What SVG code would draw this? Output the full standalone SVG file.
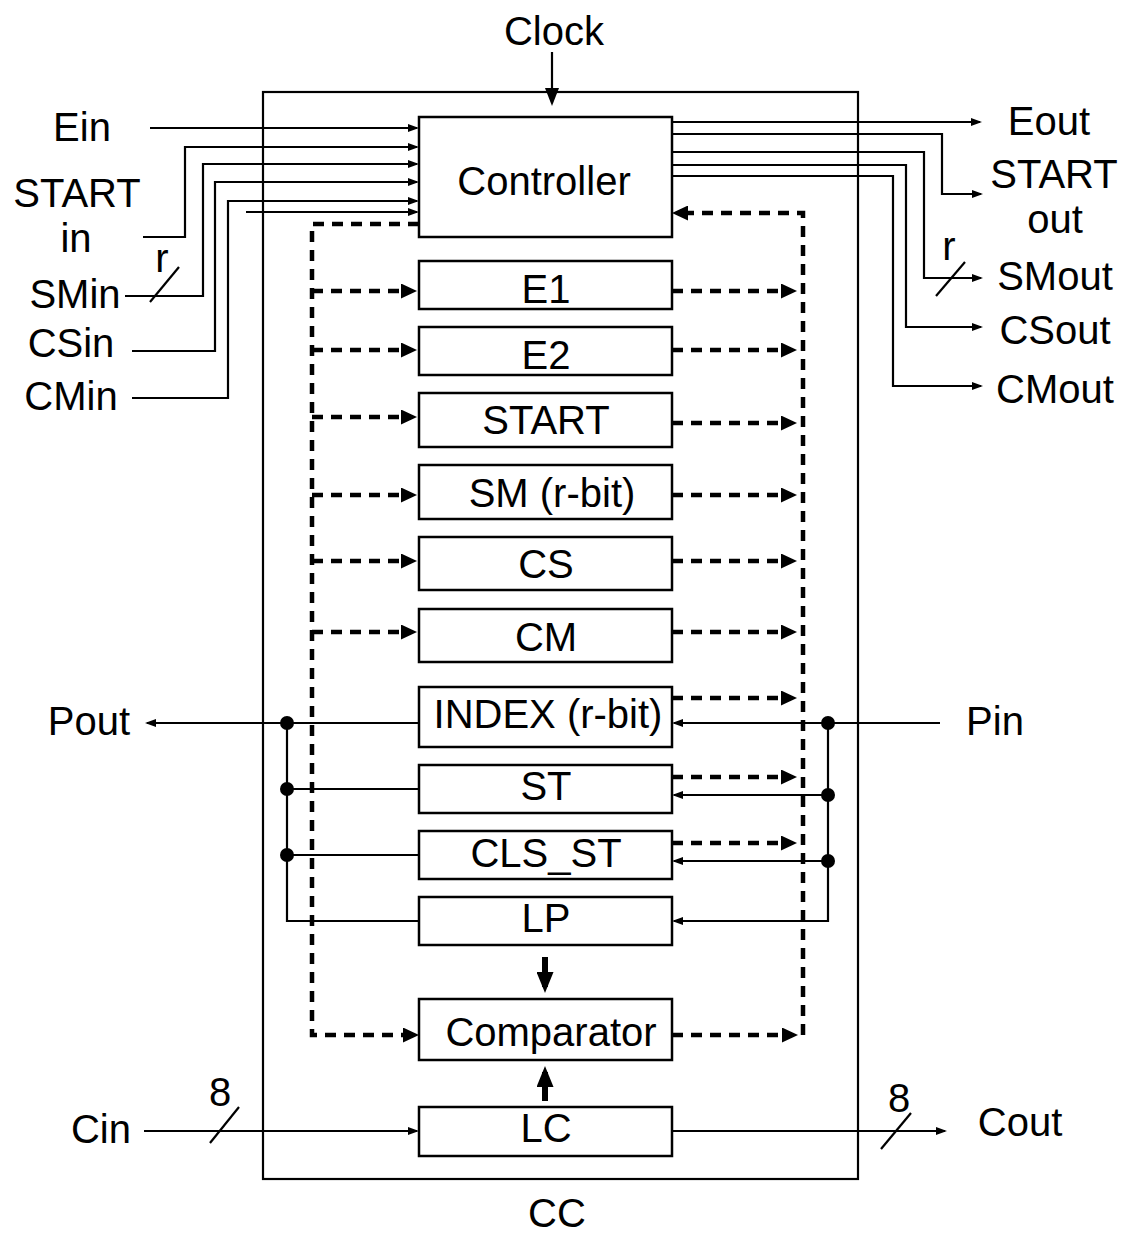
<svg xmlns="http://www.w3.org/2000/svg" width="1123" height="1235" viewBox="0 0 1123 1235">
<style>
.box{fill:#fff;stroke:#000;stroke-width:2.5}
.frame{fill:none;stroke:#000;stroke-width:2.2}
.t{font-family:"Liberation Sans",Arial,sans-serif;font-size:40px;text-anchor:middle;fill:#000}
.w{fill:none;stroke:#000;stroke-width:2.2}
.d{fill:none;stroke:#000;stroke-width:4.5;stroke-dasharray:11 8}
.k{fill:none;stroke:#000;stroke-width:6}
.dot{fill:#000}
</style>
<defs>
<marker id="a" markerWidth="11" markerHeight="8" refX="9" refY="4" orient="auto" markerUnits="userSpaceOnUse"><path d="M0,0 L11,4 L0,8 z" fill="#000"/></marker>
<marker id="da" markerWidth="16" markerHeight="15" refX="10" refY="7.5" orient="auto" markerUnits="userSpaceOnUse"><path d="M0,0 L16,7.5 L0,15 z" fill="#000"/></marker>
<marker id="ka" markerWidth="21" markerHeight="17" refX="15" refY="8.5" orient="auto" markerUnits="userSpaceOnUse"><path d="M0,0 L21,8.5 L0,17 z" fill="#000"/></marker>
<marker id="ca" markerWidth="18" markerHeight="14" refX="14" refY="7" orient="auto" markerUnits="userSpaceOnUse"><path d="M0,0 L18,7 L0,14 z" fill="#000"/></marker>
</defs>
<rect width="1123" height="1235" fill="#fff"/>
<g id="cc">
<rect class="frame" x="263" y="92" width="595" height="1087"/>
<text class="t" x="557" y="1227">CC</text>
</g>
<g id="connectors">
<path class="w" d="M552,52 V102" stroke-width="4" marker-end="url(#ca)"/>
<path class="w" d="M150,128 H417" marker-end="url(#a)"/>
<path class="w" d="M143,237 H185 V147 H417" marker-end="url(#a)"/>
<path class="w" d="M125,296 H203 V164 H417" marker-end="url(#a)"/>
<path class="w" d="M132,351 H215 V182 H417" marker-end="url(#a)"/>
<path class="w" d="M132,398 H228 V201 H417" marker-end="url(#a)"/>
<path class="w" d="M246,212 H417" marker-end="url(#a)"/>
<line class="w" x1="150" y1="302" x2="179" y2="267"/>
<path class="w" d="M672,122 H980" marker-end="url(#a)"/>
<path class="w" d="M672,134 H942 V194 H981" marker-end="url(#a)"/>
<path class="w" d="M672,152 H924 V278 H981" marker-end="url(#a)"/>
<path class="w" d="M672,165 H906 V327 H981" marker-end="url(#a)"/>
<path class="w" d="M672,176 H893 V386 H981" marker-end="url(#a)"/>
<line class="w" x1="936" y1="296" x2="965" y2="262"/>
<path class="d" d="M419,224 H312 V1035 H413" marker-end="url(#da)"/>
<path class="d" d="M312,291 H411" marker-end="url(#da)"/>
<path class="d" d="M312,350 H411" marker-end="url(#da)"/>
<path class="d" d="M312,417 H411" marker-end="url(#da)"/>
<path class="d" d="M312,495 H411" marker-end="url(#da)"/>
<path class="d" d="M312,561 H411" marker-end="url(#da)"/>
<path class="d" d="M312,632 H411" marker-end="url(#da)"/>
<path class="d" d="M803,1035 V213 H678" marker-end="url(#da)"/>
<path class="d" d="M672,291 H791" marker-end="url(#da)"/>
<path class="d" d="M672,350 H791" marker-end="url(#da)"/>
<path class="d" d="M672,423 H791" marker-end="url(#da)"/>
<path class="d" d="M672,495 H791" marker-end="url(#da)"/>
<path class="d" d="M672,561 H791" marker-end="url(#da)"/>
<path class="d" d="M672,632 H791" marker-end="url(#da)"/>
<path class="d" d="M672,698 H791" marker-end="url(#da)"/>
<path class="d" d="M672,777 H791" marker-end="url(#da)"/>
<path class="d" d="M672,843 H791" marker-end="url(#da)"/>
<path class="d" d="M672,1035 H792" marker-end="url(#da)"/>
<path class="w" d="M419,723 H147" marker-end="url(#a)"/>
<path class="w" d="M287,723 V921 H419"/>
<path class="w" d="M287,789 H419"/>
<path class="w" d="M287,855 H419"/>
<circle class="dot" cx="287" cy="723" r="7"/>
<circle class="dot" cx="287" cy="789" r="7"/>
<circle class="dot" cx="287" cy="855" r="7"/>
<path class="w" d="M940,723 H674" marker-end="url(#a)"/>
<path class="w" d="M828,723 V921 H674" marker-end="url(#a)"/>
<path class="w" d="M828,795 H674" marker-end="url(#a)"/>
<path class="w" d="M828,861 H674" marker-end="url(#a)"/>
<circle class="dot" cx="828" cy="723" r="7"/>
<circle class="dot" cx="828" cy="795" r="7"/>
<circle class="dot" cx="828" cy="861" r="7"/>
<path class="k" d="M545,957 V987" marker-end="url(#ka)"/>
<path class="k" d="M545,1101 V1072" marker-end="url(#ka)"/>
<path class="w" d="M144,1131 H417" marker-end="url(#a)"/>
<line class="w" x1="210" y1="1143" x2="239" y2="1107"/>
<path class="w" d="M672,1131 H945" marker-end="url(#a)"/>
<line class="w" x1="881" y1="1149" x2="911" y2="1113"/>
</g>
<g id="controller"><rect class="box" x="419" y="117" width="253" height="120"/><text class="t" x="544" y="195">Controller</text></g>
<g id="e1"><rect class="box" x="419" y="261" width="253" height="48"/><text class="t" x="546" y="303">E1</text></g>
<g id="e2"><rect class="box" x="419" y="327" width="253" height="48"/><text class="t" x="546" y="369">E2</text></g>
<g id="start"><rect class="box" x="419" y="393" width="253" height="54"/><text class="t" x="546" y="434">START</text></g>
<g id="sm"><rect class="box" x="419" y="465" width="253" height="54"/><text class="t" x="552" y="507">SM (r-bit)</text></g>
<g id="cs"><rect class="box" x="419" y="537" width="253" height="53"/><text class="t" x="546" y="578">CS</text></g>
<g id="cm"><rect class="box" x="419" y="609" width="253" height="53"/><text class="t" x="546" y="651">CM</text></g>
<g id="index"><rect class="box" x="419" y="687" width="253" height="60"/><text class="t" x="548" y="728">INDEX (r-bit)</text></g>
<g id="st"><rect class="box" x="419" y="765" width="253" height="48"/><text class="t" x="546" y="800">ST</text></g>
<g id="cls_st"><rect class="box" x="419" y="831" width="253" height="48"/><text class="t" x="546" y="867">CLS_ST</text></g>
<g id="lp"><rect class="box" x="419" y="897" width="253" height="48"/><text class="t" x="546" y="932">LP</text></g>
<g id="comparator"><rect class="box" x="419" y="999" width="253" height="61"/><text class="t" x="551" y="1046">Comparator</text></g>
<g id="lc"><rect class="box" x="419" y="1107" width="253" height="49"/><text class="t" x="546" y="1142">LC</text></g>
<g id="labels">
<text class="t" x="554" y="45">Clock</text>
<text class="t" x="82" y="141">Ein</text>
<text class="t" x="77" y="207">START</text>
<text class="t" x="76" y="252">in</text>
<text class="t" x="162" y="272">r</text>
<text class="t" x="75" y="308">SMin</text>
<text class="t" x="71" y="357">CSin</text>
<text class="t" x="71" y="410">CMin</text>
<text class="t" x="1049" y="135">Eout</text>
<text class="t" x="1054" y="188">START</text>
<text class="t" x="1055" y="233">out</text>
<text class="t" x="949" y="260">r</text>
<text class="t" x="1055" y="290">SMout</text>
<text class="t" x="1055" y="344">CSout</text>
<text class="t" x="1055" y="403">CMout</text>
<text class="t" x="89" y="735">Pout</text>
<text class="t" x="995" y="735">Pin</text>
<text class="t" x="101" y="1143">Cin</text>
<text class="t" x="220" y="1106">8</text>
<text class="t" x="1020" y="1136">Cout</text>
<text class="t" x="899" y="1112">8</text>
</g>
</svg>
